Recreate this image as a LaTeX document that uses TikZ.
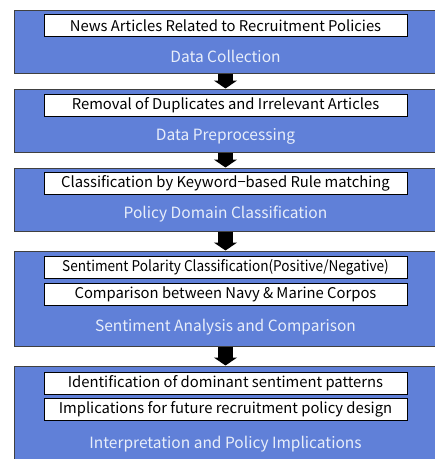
\documentclass[tikz,border=0pt]{standalone}
\usepackage{fontspec}
\setmainfont{Noto Sans CJK KR}
\usetikzlibrary{arrows.meta}
\definecolor{stageblue}{HTML}{6080D8}
\definecolor{stageedge}{HTML}{404040}
\definecolor{labelwhite}{HTML}{E8EEFA}
\begin{document}
\begin{tikzpicture}[x=1pt,y=-1pt,
  stagebox/.style={draw=stageedge, line width=1pt, fill=stageblue, minimum width=423pt, inner sep=0pt},
  itembox/.style={draw=black, line width=1pt, fill=white, minimum width=363pt, minimum height=22pt, inner sep=0pt, font=\fontsize{14.8}{17}\selectfont},
  stagelabel/.style={text=labelwhite, inner sep=0pt, font=\fontsize{15.5}{17}\selectfont},
  flowarrow/.style={line width=15pt, -{Triangle[width=23pt 0, length=8pt 0]}}]
\useasboundingbox (0,0) rectangle (435,459);
\clip (0,0) rectangle (435,459);
\node[stagebox, minimum height=63pt] (s1) at (225.5,41.5) {};
\node[stagebox, minimum height=63pt] (s2) at (225.5,120.5) {};
\node[stagebox, minimum height=63pt] (s3) at (225.5,199.5) {};
\node[stagebox, minimum height=95pt] (s4) at (225.5,298.5) {};
\node[stagebox, minimum height=100pt] (s5) at (225.5,416) {};
\node[itembox] (i1) at (225.5,25.5) {News Articles Related to Recruitment Policies};
\node[itembox] (i2) at (225.5,105) {Removal of Duplicates and Irrelevant Articles};
\node[itembox] (i3) at (225.5,183.5) {Classification by Keyword−based Rule matching};
\node[itembox] (i4a) at (225.5,267.5) {\scalebox{0.92}[1]{Sentiment Polarity Classification(Positive/Negative)}};
\node[itembox] (i4b) at (225.5,294) {Comparison between Navy \& Marine Corpos};
\node[itembox] (i5a) at (225.5,383) {Identification of dominant sentiment patterns};
\node[itembox] (i5b) at (225.5,409.5) {Implications for future recruitment policy design};
\node[stagelabel] (l1) at (225.5,56) {Data Collection};
\node[stagelabel] (l2) at (225.5,136) {Data Preprocessing};
\node[stagelabel] (l3) at (225.5,214) {Policy Domain Classification};
\node[stagelabel] (l4) at (225.5,327) {Sentiment Analysis and Comparison};
\node[stagelabel] (l5) at (225.5,444) {Interpretation and Policy Implications};
\draw[flowarrow] (s1.south) -- (s2.north);
\draw[flowarrow] (s2.south) -- (s3.north);
\draw[flowarrow] (s3.south) -- (s4.north);
\draw[flowarrow] (s4.south) -- (s5.north);
\end{tikzpicture}
\end{document}
